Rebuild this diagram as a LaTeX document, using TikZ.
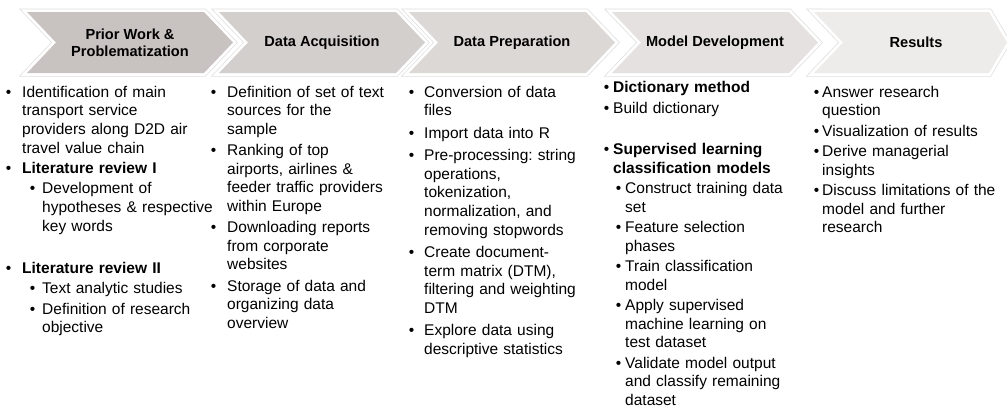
\documentclass[tikz,border=0pt]{standalone}
\usepackage{fontspec}
\setmainfont{Liberation Sans}
\usepackage{enumitem}
\setlist[itemize]{label=\textbullet, topsep=0pt, partopsep=0pt, parsep=0pt, itemsep=1.8pt, labelwidth=5.5pt, itemindent=0pt}
\setlist[itemize,2]{topsep=1.8pt}

\definecolor{stageA}{HTML}{C8C2C0}
\definecolor{stageB}{HTML}{D3CFCD}
\definecolor{stageC}{HTML}{DCD8D6}
\definecolor{stageD}{HTML}{E4E1E0}
\definecolor{stageE}{HTML}{EEECEB}

\tikzset{
  stage/.style={preaction={draw=black!13, line width=7pt}, preaction={draw=white, line width=5.5pt}},
  stagehead/.style={font=\fontsize{14.6}{17}\selectfont\bfseries, align=center, inner sep=0pt},
  steplist/.style={anchor=north west, inner sep=0pt, text width=#1, align=left,
    font=\fontsize{15.5}{18.6}\selectfont\frenchspacing},
}

\begin{document}
\begin{tikzpicture}[x=1pt,y=-1pt]
\useasboundingbox (0,0) rectangle (1007,410);
% chevrons of the process
\foreach \sx/\sw/\sd/\scol/\slabel [count=\i] in {
    27/177/29/stageA/{Prior Work \&\\Problematization},
    219/177/29/stageB/{Data Acquisition},
    409/177/29/stageC/{Data Preparation},
    612/177/29/stageD/{Model Development},
    814/175/18/stageE/{Results}}
{
  \path[stage,fill=\scol] (\sx,12) -- ++(\sw,0) -- ++(\sd,30.5) -- ++(-\sd,30.5) -- ++(-\sw,0) -- ++(29,-30.5) -- cycle;
  \node[stagehead] (stage\i) at ({\sx+(\sw+29)/2},42.5) {\slabel};
}
% tasks below each chevron
\node[steplist=208pt] (priorlist) at (4.5,78.5) {%
\begin{itemize}[leftmargin=17.5pt, labelsep=11pt]
\item Identification of main\\ transport service\\ providers along D2D air\\ travel value chain
\item \textbf{Literature review I}
  \begin{itemize}[leftmargin=20pt, labelsep=7pt]
  \item Development of\\ \mbox{hypotheses \& respective}\\ key words
  \end{itemize}
\vspace{20pt}
\item \textbf{Literature review II}
  \begin{itemize}[leftmargin=20pt, labelsep=7pt]
  \item Text analytic studies
  \item Definition of research\\ objective
  \end{itemize}
\end{itemize}};
\node[steplist=190pt] (acquisitionlist) at (213,78.5) {%
\begin{itemize}[leftmargin=14pt, labelsep=11pt, itemsep=2.6pt]
\item Definition of set of text\\ sources for the\\ sample
\item Ranking of top\\ airports, airlines \&\\ feeder traffic providers\\ within Europe
\item Downloading reports\\ from corporate\\ websites
\item Storage of data and\\ organizing data\\ overview
\end{itemize}};
\node[steplist=193pt] (preparationlist) at (407.5,78.5) {%
\begin{itemize}[leftmargin=16.5pt, labelsep=10pt, itemsep=3.8pt]
\item Conversion of data\\ files
\item Import data into R
\item Pre-processing: string\\ operations,\\ tokenization,\\ normalization, and\\ removing stopwords
\item Create document-\\ term matrix (DTM),\\ filtering and weighting\\ DTM
\item Explore data using\\ descriptive statistics
\end{itemize}};
\node[steplist=207pt] (developmentlist) at (602.5,74) {%
\begin{itemize}[leftmargin=10.5pt, labelsep=4pt]
\item \textbf{Dictionary method}
\item Build dictionary
\vspace{21pt}
\item \textbf{Supervised learning\\ classification models}
  \begin{itemize}[leftmargin=12pt, labelsep=4pt, itemsep=1.8pt, topsep=1.8pt]
  \item Construct training data\\ set
  \item Feature selection\\ phases
  \item Train classification\\ model
  \item Apply supervised\\ machine learning on\\ test dataset
  \item Validate model output\\ and classify remaining\\ dataset
  \end{itemize}
\end{itemize}};
\node[steplist=193pt] (resultslist) at (812.5,78.5) {%
\begin{itemize}[leftmargin=9.5pt, labelsep=3pt]
\item Answer research\\ question
\item Visualization of results
\item Derive managerial\\ insights
\item Discuss limitations of the\\ model and further\\ research
\end{itemize}};
\end{tikzpicture}
\end{document}
